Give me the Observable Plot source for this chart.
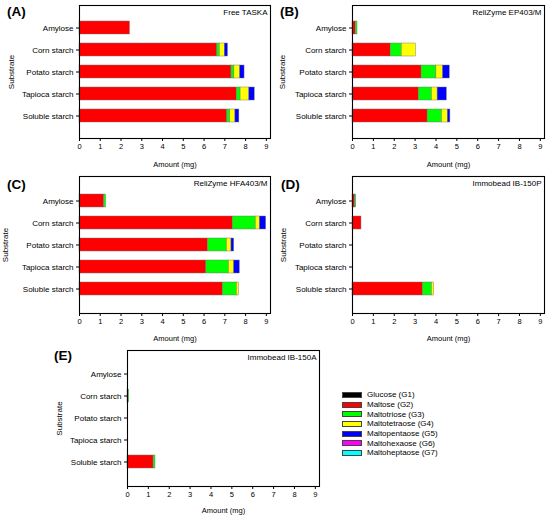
<!DOCTYPE html>
<html><head><meta charset="utf-8">
<script src="https://cdn.jsdelivr.net/npm/d3@7"></script>
<script src="https://cdn.jsdelivr.net/npm/@observablehq/plot@0.6"></script>
<style>
body{margin:0;background:#fff;font-family:"Liberation Sans",Arial,sans-serif;}
#fig{position:relative;width:550px;height:517px;overflow:hidden;background:#fff;}
.panel{position:absolute;}
.panel svg{overflow:visible;}
.tag{position:absolute;font-weight:bold;font-size:13.5px;line-height:16px;color:#000;}
#legend{position:absolute;left:342px;top:390px;font-size:8px;color:#000;}
#legend .row{height:9.7px;display:flex;align-items:center;white-space:nowrap;}
#legend .sw{width:18px;height:4px;border:0.6px solid #444;margin-right:5px;}
</style></head><body><div id="fig"></div>
<script>
const substrates = ["Amylose", "Corn starch", "Potato starch", "Tapioca starch", "Soluble starch"];
const products = ["Glucose (G1)", "Maltose (G2)", "Maltotriose (G3)", "Maltotetraose (G4)", "Maltopentaose (G5)", "Maltohexaose (G6)", "Maltoheptaose (G7)"];
const productColors = ["#000000", "#ff0000", "#00ff00", "#ffff00", "#0000ff", "#ff00ff", "#00ffff"];
const xTicks = [0, 1, 2, 3, 4, 5, 6, 7, 8, 9];

// amounts (mg): rows = substrates, columns = G1..G7
const freeTaska = [
  [0, 2.43, 0, 0, 0, 0, 0],
  [0, 6.64, 0.12, 0.24, 0.15, 0, 0],
  [0, 7.32, 0.14, 0.28, 0.21, 0, 0],
  [0, 7.58, 0.18, 0.42, 0.26, 0, 0],
  [0, 7.12, 0.14, 0.25, 0.19, 0, 0]
];
const reliZymeEP403M = [
  [0, 0.16, 0.08, 0, 0, 0, 0],
  [0, 1.83, 0.53, 0.68, 0, 0, 0],
  [0, 3.31, 0.71, 0.32, 0.32, 0, 0],
  [0, 3.18, 0.63, 0.27, 0.44, 0, 0],
  [0, 3.60, 0.69, 0.28, 0.12, 0, 0]
];
const reliZymeHFA403M = [
  [0, 1.19, 0.09, 0, 0, 0, 0],
  [0, 7.39, 1.10, 0.20, 0.30, 0, 0],
  [0, 6.19, 0.91, 0.22, 0.13, 0, 0],
  [0, 6.11, 1.09, 0.25, 0.27, 0, 0],
  [0, 6.91, 0.67, 0.10, 0, 0, 0]
];
const immobeadIB150P = [
  [0, 0.13, 0.05, 0, 0, 0, 0],
  [0, 0.43, 0, 0, 0, 0, 0],
  [0, 0, 0, 0, 0, 0, 0],
  [0, 0, 0, 0, 0, 0, 0],
  [0, 3.38, 0.43, 0.10, 0, 0, 0]
];
const immobeadIB150A = [
  [0, 0, 0, 0, 0, 0, 0],
  [0, 0, 0.08, 0, 0, 0, 0],
  [0, 0, 0, 0, 0, 0, 0],
  [0, 0, 0, 0, 0, 0, 0],
  [0, 1.25, 0.09, 0, 0, 0, 0]
];

const FONT = "'Liberation Sans', Arial, sans-serif";
const fig = document.getElementById("fig");

function panel(values, title, tag, o) {
  const rows = [];
  values.forEach((row, i) => row.forEach((v, j) => {
    if (v > 0) rows.push({substrate: substrates[i], product: products[j], amount: v});
  }));
  const chart = Plot.plot({
    width: o.width, height: o.height,
    marginLeft: o.mL, marginRight: o.mR, marginTop: o.mT, marginBottom: o.mB,
    style: {fontFamily: FONT, fontSize: "8px", background: "transparent", color: "#000"},
    x: {domain: [0, 9.2], label: null},
    y: {domain: substrates, paddingInner: 0.4, paddingOuter: 0.7, label: null},
    color: {domain: products, range: productColors},
    marks: [
      Plot.barX(rows, {x: "amount", y: "substrate", fill: "product", order: products, stroke: "#777", strokeWidth: 0.45}),
      Plot.frame({stroke: "#000", strokeWidth: 1.1}),
      Plot.axisX({ticks: xTicks, tickSize: 3, tickPadding: 2, label: null, fontSize: 7.5, stroke: "#000"}),
      Plot.axisY({tickSize: 3, tickPadding: 3, label: null, fontSize: 8, stroke: "#000"}),
      Plot.text([title], {frameAnchor: "top-right", textAnchor: "end", lineAnchor: "middle", dx: -3, dy: 7, fontSize: 8}),
      Plot.text(["Amount (mg)"], {frameAnchor: "bottom", textAnchor: "middle", lineAnchor: "middle", dy: o.titleDy, fontSize: 7.5}),
      Plot.text(["Substrate"], {frameAnchor: "left", textAnchor: "middle", lineAnchor: "middle", rotate: -90, dx: o.subDx, fontSize: 8})
    ]
  });
  const div = document.createElement("div");
  div.className = "panel";
  div.style.left = o.left + "px";
  div.style.top = o.top + "px";
  div.appendChild(chart);
  fig.appendChild(div);
  const t = document.createElement("div");
  t.className = "tag";
  t.textContent = tag;
  t.style.left = o.tagX + "px";
  t.style.top = o.tagY + "px";
  fig.appendChild(t);
}

panel(freeTaska, "Free TASKA", "(A)", {left: 0, top: 0, width: 275, height: 170, mL: 79, mR: 5, mT: 5, mB: 32, titleDy: 26, subDx: -68, tagX: 7, tagY: 4});
panel(reliZymeEP403M, "ReliZyme EP403/M", "(B)", {left: 275, top: 0, width: 275, height: 170, mL: 77, mR: 6, mT: 5, mB: 32, titleDy: 26, subDx: -70, tagX: 280, tagY: 4});
panel(reliZymeHFA403M, "ReliZyme HFA403/M", "(C)", {left: 0, top: 170, width: 275, height: 175, mL: 79, mR: 5, mT: 6, mB: 32, titleDy: 25, subDx: -74, tagX: 7, tagY: 177});
panel(immobeadIB150P, "Immobead IB-150P", "(D)", {left: 275, top: 170, width: 275, height: 175, mL: 77, mR: 6, mT: 6, mB: 32, titleDy: 25, subDx: -69, tagX: 281, tagY: 177});
panel(immobeadIB150A, "Immobead IB-150A", "(E)", {left: 0, top: 340, width: 330, height: 177, mL: 127, mR: 11, mT: 10, mB: 31, titleDy: 24, subDx: -68, tagX: 54, tagY: 348});

const legend = document.createElement("div");
legend.id = "legend";
products.forEach((p, i) => {
  const row = document.createElement("div");
  row.className = "row";
  const sw = document.createElement("span");
  sw.className = "sw";
  sw.style.background = productColors[i];
  const lbl = document.createElement("span");
  lbl.textContent = p;
  row.appendChild(sw);
  row.appendChild(lbl);
  legend.appendChild(row);
});
fig.appendChild(legend);
</script>
</body></html>
